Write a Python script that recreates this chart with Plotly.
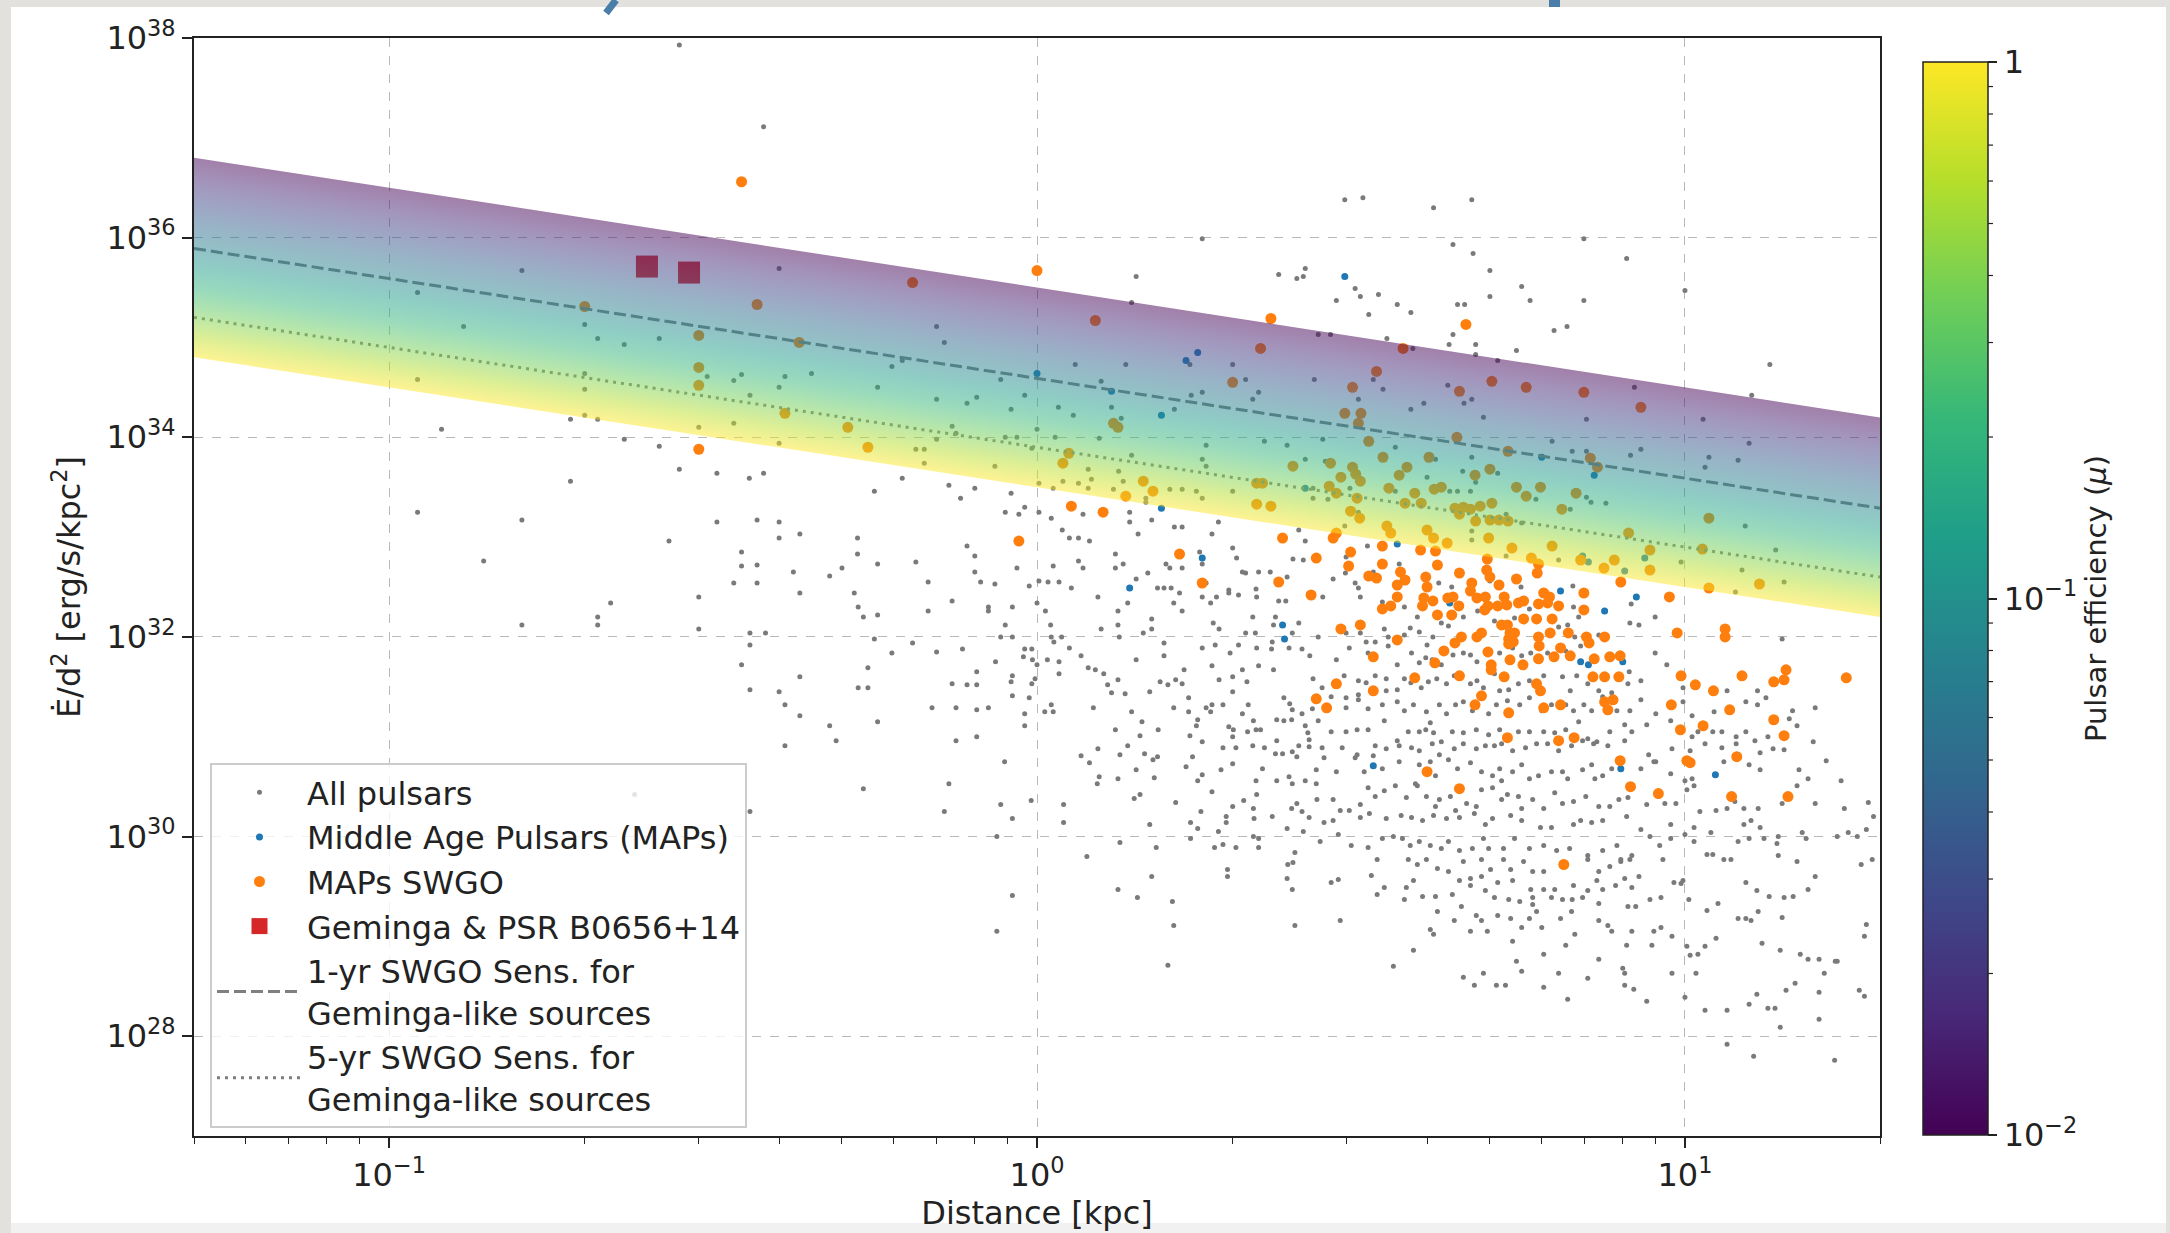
import base64
import numpy as np
import plotly.graph_objects as go
from plotly.colors import sample_colorscale

# ------------------------------------------------------------------
# Data: (log10 distance [kpc], log10 Edot/d^2 [erg/s/kpc^2])
# ------------------------------------------------------------------
all_pulsars = [
    # nearby (< 0.4 kpc)
    (-0.552, 37.93), (-0.422, 37.11), (-0.795, 35.67), (-0.956, 35.45), (-0.885, 35.11), (-0.698, 35.13),
    (-0.678, 34.99), (-0.637, 34.93), (-0.583, 34.99), (-0.698, 34.64), (-0.509, 34.61), (-0.468, 34.57),
    (-0.456, 34.63), (-0.956, 34.58), (-0.698, 34.48), (-0.443, 34.42), (-0.720, 34.18), (-0.698, 34.22),
    (-0.678, 34.18), (-0.522, 34.10), (-0.468, 34.14), (-0.919, 34.08), (-0.637, 33.98), (-0.583, 33.91),
    (-0.552, 33.68), (-0.494, 33.64), (-0.444, 33.59), (-0.422, 33.64), (-0.720, 33.56), (-0.956, 33.25),
    (-0.795, 33.17), (-0.494, 33.15), (-0.432, 33.17), (-0.568, 32.96), (-0.854, 32.76), (-0.456, 32.85),
    (-0.456, 32.71), (-0.432, 32.72), (-0.468, 32.54), (-0.432, 32.54),
    (-0.522, 32.40), (-0.658, 32.34), (-0.795, 32.12), (-0.678, 32.20), (-0.678, 32.12), (-0.522, 32.08),
    (-0.443, 32.04), (-0.443, 31.92), (-0.456, 31.72), (-0.443, 31.47), (-0.621, 30.42), (-0.443, 30.25),
    # 0.4 - 2.7 kpc, upper part
    (0.255, 35.99), (-0.398, 35.69), (0.153, 35.61), (0.373, 35.63), (0.401, 35.59), (0.411, 35.61),
    (0.414, 35.69), (0.146, 35.35), (-0.155, 35.11), (-0.143, 34.95), (-0.389, 34.61), (-0.398, 34.50),
    (-0.348, 34.64), (-0.246, 34.50), (-0.224, 34.71), (-0.208, 34.77), (-0.056, 34.58), (0.059, 34.73),
    (0.137, 34.73), (0.099, 34.56), (0.302, 34.73), (0.322, 34.58), (0.236, 34.73), (-0.155, 34.38),
    (-0.108, 34.34), (-0.093, 34.40), (-0.019, 34.42), (-0.040, 34.28), (0.033, 34.30), (0.056, 34.22),
    (0.115, 34.30), (0.130, 34.19), (0.212, 34.28), (0.238, 34.42), (0.255, 34.45), (0.342, 34.45),
    (0.333, 34.38), (0.351, 33.96), (0.386, 33.92), (0.414, 33.78), (0.261, 33.92), (0.255, 33.78),
    (0.261, 33.71), (0.146, 33.82), (0.126, 33.66), (0.096, 33.99), (0.028, 34.00), (0.000, 34.08),
    (-0.031, 34.00), (-0.049, 34.00), (-0.008, 33.89), (-0.131, 34.11), (-0.125, 34.04), (-0.155, 33.98),
    (-0.187, 33.88), (-0.174, 33.88), (-0.174, 33.74), (-0.398, 33.94), (-0.065, 33.71), (0.079, 33.68),
    (0.084, 33.58), (0.040, 33.56), (0.064, 33.54), (0.079, 33.49), (0.003, 33.54), (0.025, 33.49),
    (0.118, 33.48), (0.133, 33.56), (0.168, 33.39), (0.168, 33.35), (0.205, 33.48), (0.224, 33.48),
    (0.246, 33.46), (0.255, 33.39), (0.302, 33.46), (-0.251, 33.46), (-0.208, 33.59), (-0.136, 33.52),
    (-0.118, 33.39), (-0.096, 33.49), (-0.040, 33.44), (-0.398, 33.15), (-0.398, 32.99), (-0.366, 33.03),
    (-0.277, 32.99), (-0.277, 32.83), (-0.376, 32.65), (-0.320, 32.61), (-0.301, 32.69), (-0.246, 32.73),
    (-0.187, 32.75), (-0.168, 32.55), (-0.108, 32.91), (-0.096, 32.81), (-0.096, 32.65), (-0.087, 32.55),
    (-0.065, 32.53), (-0.049, 33.25), (-0.031, 32.69), (-0.028, 33.23), (-0.019, 33.30), (0.003, 33.25),
    (-0.012, 32.51), (0.003, 32.56), (0.022, 33.19), (0.017, 32.55), (0.034, 32.55), (0.039, 33.07),
    (0.050, 32.99), (0.064, 32.99), (0.081, 32.96), (0.071, 33.23), (0.025, 32.71), (0.053, 32.49),
    (0.064, 32.76), (0.071, 32.69), (0.121, 32.83), (0.121, 32.69), (0.133, 32.73), (0.143, 33.25),
    (0.143, 33.15), (0.156, 33.03), (0.153, 32.58), (0.171, 32.64), (0.177, 33.17), (0.212, 33.10),
    (0.224, 33.10), (0.199, 32.73), (0.205, 32.69), (0.224, 32.69), (0.251, 32.85), (0.255, 32.73),
    (0.261, 32.54), (0.270, 33.03), (0.280, 33.15), (0.302, 32.89), (0.308, 32.79), (0.317, 32.65),
    (0.322, 32.64), (0.342, 32.65), (0.360, 32.65), (0.386, 32.60), (0.395, 32.78), (0.411, 32.77),
    (0.404, 33.07), (0.414, 32.96), (0.186, 32.49), (0.196, 32.49), (0.207, 32.49), (0.296, 32.47),
    (0.338, 32.48),
    # 0.4 - 2.7 kpc, lower part
    (-0.366, 32.44), (-0.282, 32.44), (-0.276, 32.30), (-0.268, 32.20), (-0.246, 32.22), (-0.168, 32.26),
    (-0.131, 32.36), (-0.075, 32.30), (-0.075, 32.26), (-0.038, 32.30), (0.000, 32.34), (0.013, 32.26),
    (-0.049, 32.12), (0.021, 32.12), (-0.419, 32.04), (-0.251, 31.98), (-0.192, 31.94), (-0.056, 32.00),
    (-0.038, 32.00), (0.022, 32.00), (0.038, 32.00), (0.026, 31.95), (-0.224, 31.84), (-0.155, 31.85),
    (-0.115, 31.88), (-0.019, 31.88), (-0.008, 31.88), (-0.021, 31.80), (-0.007, 31.77), (0.000, 31.72),
    (0.016, 31.77), (0.034, 31.75), (0.050, 31.89), (0.068, 31.81), (-0.064, 31.75), (-0.261, 31.69),
    (-0.366, 31.60), (-0.398, 31.45), (-0.276, 31.49), (-0.261, 31.49), (-0.131, 31.53), (-0.108, 31.52),
    (-0.093, 31.65), (-0.093, 31.52), (-0.038, 31.61), (-0.040, 31.55), (-0.008, 31.53), (-0.003, 31.58),
    (0.034, 31.63), (0.079, 31.69), (0.090, 31.67), (0.103, 31.63), (0.109, 31.52), (0.115, 31.44),
    (0.125, 31.57), (0.136, 31.43), (0.153, 31.77), (0.174, 31.45), (0.190, 31.55), (0.202, 31.52),
    (0.214, 31.57), (0.224, 31.53), (0.227, 31.67), (0.196, 31.81), (0.196, 31.94), (0.211, 32.34),
    (0.220, 32.44), (0.224, 32.26), (0.177, 32.18), (0.177, 32.08), (0.164, 32.04), (0.125, 32.26),
    (0.140, 32.34), (0.099, 32.08), (0.125, 32.12), (0.127, 32.00), (0.094, 32.40), (0.255, 32.40),
    (0.268, 32.34), (0.277, 32.40), (0.296, 32.44), (0.311, 32.42), (0.339, 32.40), (0.373, 32.36),
    (0.384, 32.36), (0.333, 32.20), (0.368, 32.20), (0.365, 32.12), (0.404, 32.14), (0.394, 32.04),
    (0.272, 32.14), (0.281, 32.08), (0.322, 32.04), (0.337, 32.04), (0.311, 31.92), (0.255, 31.89),
    (0.275, 31.92), (0.298, 31.84), (0.339, 31.89), (0.362, 31.88), (0.363, 31.95), (0.389, 31.89),
    (0.409, 31.88), (0.421, 31.81), (0.270, 31.71), (0.317, 31.67), (0.342, 31.71), (0.365, 31.67),
    (0.302, 31.60), (0.324, 31.55), (0.281, 31.57), (0.302, 31.45), (0.234, 31.39), (0.211, 31.29),
    (0.234, 31.25), (0.248, 31.17), (0.246, 31.11), (0.261, 31.29), (0.270, 31.32), (0.287, 31.32),
    (0.268, 31.25), (0.317, 31.23), (0.326, 31.32), (0.334, 31.16), (0.296, 31.10), (0.303, 31.07),
    (0.325, 31.05), (0.338, 31.07), (0.345, 31.07), (0.370, 31.17), (0.381, 31.16), (0.393, 31.17),
    (0.381, 31.39), (0.390, 31.33), (0.394, 31.27), (0.409, 31.23), (0.425, 31.28), (0.414, 31.11),
    (0.418, 31.04), (0.236, 31.01), (0.255, 30.95), (0.302, 31.00), (0.287, 30.89), (0.307, 30.89),
    (0.333, 30.91), (0.351, 30.89), (0.370, 30.96), (0.368, 30.83), (0.379, 30.83), (0.394, 30.85),
    (0.401, 30.80), (0.404, 30.91), (0.420, 30.97), (0.420, 30.90), (0.240, 30.80), (0.230, 30.70),
    (0.248, 30.56), (0.255, 30.62), (0.284, 30.67), (0.302, 30.73), (0.348, 30.68), (0.338, 30.56),
    (0.370, 30.56), (0.389, 30.60), (0.394, 30.53), (0.414, 30.56), (0.431, 30.67), (0.431, 30.53),
    (0.270, 30.45), (0.339, 30.42), (0.214, 30.34), (0.319, 30.36), (0.302, 30.30), (0.334, 30.28),
    (0.393, 30.28), (0.401, 30.33), (0.409, 30.25), (0.432, 30.37), (0.253, 30.25), (0.237, 30.14),
    (0.248, 30.08), (0.292, 30.20), (0.292, 30.14), (0.335, 30.18), (0.363, 30.20), (0.386, 30.08),
    (0.411, 30.05), (0.280, 30.05), (0.237, 29.98), (0.334, 30.00), (0.342, 29.98), (0.274, 29.89),
    (0.287, 29.92), (0.307, 29.89), (0.342, 29.89), (0.398, 29.84), (0.387, 29.72), (0.395, 29.74),
    (0.386, 29.58), (0.394, 29.47), (0.398, 29.11), (0.294, 29.67), (0.294, 29.60), (0.128, 29.94),
    (0.184, 29.89), (0.174, 30.12), (0.153, 30.67), (0.159, 30.42), (0.150, 30.38), (0.125, 30.58),
    (0.096, 30.60), (0.093, 30.53), (0.081, 30.74), (0.068, 30.81), (0.094, 30.88), (0.128, 30.82),
    (0.140, 30.91), (0.166, 30.83), (0.179, 30.77), (0.186, 30.80), (0.181, 30.59), (0.121, 31.07),
    (0.146, 31.25), (0.162, 31.15), (0.159, 31.01), (0.187, 31.07), (0.087, 31.29), (0.041, 30.32),
    (0.041, 30.14), (0.077, 29.80), (0.125, 29.47), (0.155, 29.39), (0.177, 29.60), (0.209, 29.35),
    (0.211, 29.11), (0.202, 28.71), (-0.009, 30.36), (-0.038, 30.18), (-0.056, 30.32), (-0.062, 30.00),
    (-0.038, 29.41), (-0.062, 29.05), (-0.050, 30.75), (-0.019, 31.23), (-0.019, 31.11), (-0.012, 31.39),
    (0.012, 31.25), (0.022, 31.32), (0.025, 31.25), (-0.038, 31.41), (-0.075, 31.29), (-0.093, 31.27),
    (-0.125, 31.29), (-0.162, 31.29), (-0.125, 30.96), (-0.093, 31.00), (-0.136, 30.53), (-0.143, 30.25),
    (-0.268, 30.48), (-0.320, 31.11), (-0.310, 30.96), (-0.389, 31.32), (-0.366, 31.21), (-0.389, 30.91),
    (-0.246, 31.15),
    # beyond 2.7 kpc, upper part
    (0.475, 36.38), (0.503, 36.40), (0.671, 36.38), (0.612, 36.30), (0.844, 35.99), (0.642, 35.93),
    (0.673, 35.84), (0.910, 35.79), (1.000, 35.47), (0.699, 35.67), (0.699, 35.41), (0.748, 35.51),
    (0.761, 35.37), (0.844, 35.37), (0.491, 35.49), (0.499, 35.41), (0.527, 35.43), (0.462, 35.37),
    (0.556, 35.33), (0.577, 35.25), (0.512, 35.23), (0.649, 35.33), (0.660, 35.33), (0.798, 35.07),
    (0.818, 35.11), (0.642, 35.03), (0.434, 35.03), (0.453, 35.03), (0.540, 34.99), (0.580, 34.89),
    (0.636, 34.93), (0.677, 34.93), (0.677, 34.83), (0.711, 34.77), (0.740, 34.87), (1.131, 34.73),
    (0.922, 34.50), (1.103, 34.42), (0.428, 34.58), (0.519, 34.58), (0.534, 34.48), (0.496, 34.38),
    (0.634, 34.52), (0.671, 34.38), (0.659, 34.34), (0.597, 34.34), (0.577, 34.28), (0.689, 34.20),
    (0.848, 34.18), (1.028, 34.18), (1.099, 33.94), (0.441, 33.98), (0.795, 33.96), (0.826, 33.86),
    (0.848, 33.86), (0.916, 33.82), (0.932, 33.88), (1.037, 33.80), (1.031, 33.70), (1.082, 33.77),
    (0.553, 33.90), (0.615, 33.78), (0.671, 33.80), (0.602, 33.60), (0.657, 33.66), (0.711, 33.64),
    (0.677, 33.55), (0.445, 33.76), (0.483, 33.49), (0.426, 33.49), (0.426, 33.39), (0.449, 33.38),
    (0.553, 33.46), (0.637, 33.46), (0.649, 33.46), (0.669, 33.46), (0.686, 33.30), (0.724, 33.23),
    (0.770, 33.38), (0.823, 33.28), (0.848, 33.40), (0.855, 33.35), (0.878, 33.34), (0.748, 33.14),
    (0.496, 33.25), (0.475, 33.11), (0.671, 33.06), (0.671, 32.97), (0.724, 32.81), (0.805, 32.77),
    (1.093, 33.11), (1.140, 32.87), (0.994, 32.75), (1.088, 32.67), (1.153, 32.55), (0.510, 32.91),
    (0.477, 32.80), (0.476, 32.64), (0.457, 32.58), (0.491, 32.54), (0.496, 32.49), (0.559, 32.73),
    (0.519, 32.65), (0.620, 32.54), (0.649, 32.66), (0.640, 32.50), (0.699, 32.56), (0.747, 32.50),
    (0.827, 32.51), (1.078, 32.45),
    # beyond 2.7 kpc, main cloud
    (0.441, 32.40), (0.499, 32.40), (0.533, 32.35), (0.567, 32.30), (0.587, 32.20), (0.658, 32.20),
    (0.680, 32.26), (0.760, 32.28), (0.828, 32.30), (0.819, 32.12), (0.836, 32.20), (0.917, 32.33),
    (0.915, 32.14), (0.929, 32.12), (0.954, 32.20), (0.434, 32.00), (0.477, 32.04), (0.499, 32.04),
    (0.536, 32.08), (0.542, 32.00), (0.567, 32.02), (0.576, 32.09), (0.590, 32.05), (0.611, 32.00),
    (0.624, 32.14), (0.635, 32.11), (0.658, 32.00), (0.706, 32.16), (0.737, 32.19), (0.805, 32.10),
    (0.830, 32.00), (1.150, 31.98),
    (0.462, 31.77), (0.482, 31.89), (0.508, 31.95), (0.522, 31.95), (0.511, 31.84), (0.542, 31.91),
    (0.556, 31.72), (0.578, 31.84), (0.602, 31.92), (0.590, 31.74), (0.600, 31.79), (0.610, 31.77),
    (0.624, 31.72), (0.642, 31.82), (0.658, 31.84), (0.669, 31.82), (0.679, 31.75), (0.714, 31.84),
    (0.734, 31.89), (0.748, 31.81), (0.762, 31.84), (0.788, 31.84), (0.816, 31.86), (0.839, 31.91),
    (0.867, 32.02), (0.914, 31.65), (0.932, 31.56), (0.954, 31.84), (0.972, 31.72),
    (0.426, 31.58), (0.440, 31.49), (0.474, 31.61), (0.496, 31.56), (0.496, 31.42), (0.508, 31.54),
    (0.522, 31.61), (0.539, 31.58), (0.539, 31.46), (0.556, 31.47), (0.567, 31.58), (0.577, 31.54),
    (0.593, 31.49), (0.604, 31.55), (0.617, 31.58), (0.632, 31.53), (0.644, 31.61), (0.669, 31.53),
    (0.679, 31.56), (0.689, 31.49), (0.706, 31.63), (0.714, 31.46), (0.728, 31.47), (0.743, 31.53),
    (0.760, 31.56), (0.782, 31.61), (0.811, 31.60), (0.823, 31.46), (0.833, 31.61), (0.850, 31.53),
    (0.867, 31.46), (0.887, 31.44), (0.912, 31.53), (1.065, 31.46), (1.112, 31.46), (1.125, 31.39),
    (0.997, 31.49),
    (0.454, 31.40), (0.477, 31.39), (0.477, 31.29), (0.496, 31.37), (0.511, 31.28), (0.533, 31.32),
    (0.556, 31.35), (0.567, 31.26), (0.581, 31.32), (0.601, 31.25), (0.607, 31.14), (0.621, 31.32),
    (0.632, 31.23), (0.646, 31.32), (0.658, 31.35), (0.672, 31.26), (0.697, 31.23), (0.709, 31.32),
    (0.726, 31.36), (0.745, 31.32), (0.760, 31.39), (0.779, 31.26), (0.794, 31.32), (0.816, 31.32),
    (0.828, 31.26), (0.844, 31.32), (0.856, 31.26), (0.873, 31.40), (0.895, 31.26), (0.915, 31.26),
    (0.932, 31.37), (0.955, 31.23), (0.997, 31.35), (1.011, 31.21), (1.045, 31.25), (1.094, 31.35),
    (1.112, 31.32), (1.166, 31.26), (1.201, 31.29),
    (0.434, 31.16), (0.454, 31.05), (0.477, 31.05), (0.494, 31.07), (0.511, 31.07), (0.536, 31.16),
    (0.556, 30.96), (0.573, 31.05), (0.590, 31.05), (0.600, 31.07), (0.612, 31.04), (0.624, 30.95),
    (0.641, 31.05), (0.658, 31.04), (0.678, 31.07), (0.697, 31.02), (0.714, 31.07), (0.728, 31.00),
    (0.743, 31.05), (0.760, 31.05), (0.782, 31.05), (0.799, 31.04), (0.816, 31.07), (0.836, 31.15),
    (0.850, 30.98), (0.864, 30.95), (0.884, 31.05), (0.907, 31.12), (0.918, 31.05), (0.941, 31.12),
    (0.978, 31.16), (1.011, 31.00), (1.020, 31.05), (1.043, 31.05), (1.057, 31.05), (1.079, 31.00),
    (1.094, 31.05), (1.108, 30.96), (1.128, 31.00), (1.161, 31.18), (1.173, 31.11), (1.198, 30.95),
    (0.440, 30.89), (0.471, 30.89), (0.494, 30.82), (0.522, 30.91), (0.539, 30.88), (0.559, 30.91),
    (0.578, 30.89), (0.590, 30.86), (0.610, 30.93), (0.621, 30.82), (0.644, 30.88), (0.658, 30.93),
    (0.678, 30.88), (0.692, 30.91), (0.706, 30.91), (0.717, 30.93), (0.734, 30.86), (0.754, 30.89),
    (0.771, 30.93), (0.788, 30.93), (0.805, 30.86), (0.825, 30.91), (0.842, 30.96), (0.859, 30.93),
    (0.881, 30.91), (0.907, 30.96), (0.944, 30.82), (0.955, 30.75), (0.980, 30.88), (1.008, 30.86),
    (1.031, 30.93), (1.057, 30.89), (1.079, 30.93), (1.116, 30.84), (1.136, 30.88), (1.153, 30.87),
    (1.218, 30.76),
    (0.443, 30.79), (0.462, 30.65), (0.491, 30.79), (0.505, 30.65), (0.519, 30.81), (0.533, 30.68),
    (0.559, 30.75), (0.584, 30.53), (0.590, 30.72), (0.607, 30.75), (0.615, 30.61), (0.635, 30.77),
    (0.649, 30.68), (0.669, 30.74), (0.686, 30.65), (0.703, 30.61), (0.714, 30.68), (0.717, 30.56),
    (0.734, 30.65), (0.748, 30.72), (0.760, 30.58), (0.774, 30.61), (0.794, 30.65), (0.811, 30.65),
    (0.819, 30.58), (0.842, 30.67), (0.856, 30.72), (0.861, 30.58), (0.873, 30.61), (0.887, 30.68),
    (0.932, 30.68), (0.952, 30.75), (0.978, 30.63), (1.000, 30.56), (1.011, 30.58), (1.060, 30.75),
    (1.099, 30.72), (1.116, 30.67), (1.176, 30.67), (1.190, 30.58), (1.241, 30.56),
    (0.457, 30.37), (0.468, 30.26), (0.482, 30.26), (0.499, 30.32), (0.511, 30.49), (0.522, 30.40),
    (0.536, 30.46), (0.553, 30.51), (0.570, 30.39), (0.587, 30.51), (0.601, 30.40), (0.615, 30.30),
    (0.621, 30.37), (0.638, 30.40), (0.646, 30.26), (0.663, 30.33), (0.678, 30.30), (0.686, 30.47),
    (0.703, 30.49), (0.717, 30.37), (0.726, 30.42), (0.743, 30.40), (0.748, 30.28), (0.765, 30.37),
    (0.782, 30.28), (0.799, 30.44), (0.811, 30.33), (0.828, 30.35), (0.847, 30.40), (0.867, 30.30),
    (0.884, 30.30), (0.898, 30.37), (0.912, 30.39), (0.941, 30.32), (0.969, 30.33), (0.986, 30.33),
    (1.003, 30.47), (1.014, 30.51), (1.023, 30.25), (1.048, 30.26), (1.065, 30.28), (1.077, 30.35),
    (1.091, 30.28), (1.113, 30.28), (1.150, 30.33), (1.173, 30.51), (1.201, 30.33), (1.246, 30.28),
    (1.283, 30.34), (1.291, 30.20),
    (0.420, 30.19), (0.443, 30.14), (0.457, 30.16), (0.499, 30.19), (0.513, 30.23), (0.539, 30.18),
    (0.562, 30.21), (0.578, 30.19), (0.595, 30.16), (0.612, 30.21), (0.632, 30.18), (0.652, 30.19),
    (0.675, 30.23), (0.692, 30.12), (0.703, 30.18), (0.731, 30.21), (0.748, 30.16), (0.777, 30.09),
    (0.794, 30.09), (0.828, 30.12), (0.839, 30.16), (0.856, 30.14), (0.873, 30.16), (0.910, 30.20),
    (0.932, 30.07), (0.978, 30.12), (1.014, 30.09), (1.040, 30.04), (1.091, 30.12), (1.102, 30.16),
    (1.116, 30.09), (1.144, 30.00), (1.181, 30.04), (1.252, 30.04), (1.280, 30.07),
    (0.437, 29.95), (0.465, 30.02), (0.485, 29.91), (0.511, 29.89), (0.533, 29.98), (0.550, 30.00),
    (0.564, 29.98), (0.576, 29.91), (0.590, 29.95), (0.607, 29.91), (0.624, 29.88), (0.635, 29.95),
    (0.652, 29.86), (0.672, 29.88), (0.689, 29.98), (0.697, 29.88), (0.720, 29.88), (0.737, 29.98),
    (0.760, 29.88), (0.782, 29.91), (0.802, 29.86), (0.822, 29.88), (0.850, 29.81), (0.873, 29.86),
    (0.895, 29.91), (0.901, 29.75), (0.918, 29.81), (0.946, 30.00), (0.961, 29.91), (0.978, 29.98),
    (1.000, 30.02), (1.014, 29.95), (1.034, 29.82), (1.043, 29.82), (1.082, 29.95), (1.099, 29.98),
    (1.122, 29.98), (1.142, 29.93), (1.187, 29.98), (1.235, 30.00), (1.266, 30.00),
    (0.525, 29.77), (0.573, 29.77), (0.587, 29.72), (0.601, 29.77), (0.618, 29.68), (0.635, 29.65),
    (0.658, 29.75), (0.686, 29.77), (0.700, 29.67), (0.720, 29.77), (0.731, 29.67), (0.751, 29.75),
    (0.765, 29.65), (0.782, 29.65), (0.850, 29.77), (0.867, 29.65), (0.884, 29.70), (0.901, 29.77),
    (0.915, 29.77), (0.966, 29.77), (0.983, 29.54), (0.997, 29.56), (1.060, 29.77), (1.071, 29.77),
    (1.144, 29.81), (1.173, 29.75), (1.272, 29.72), (1.289, 29.77),
    (0.454, 29.54), (0.465, 29.57), (0.516, 29.61), (0.536, 29.49), (0.570, 29.49), (0.581, 29.56),
    (0.652, 29.56), (0.669, 29.58), (0.686, 29.60), (0.711, 29.54), (0.734, 29.56), (0.762, 29.47),
    (0.782, 29.47), (0.799, 29.47), (0.828, 29.51), (0.850, 29.46), (0.864, 29.56), (0.873, 29.47),
    (0.893, 29.51), (0.907, 29.58), (0.918, 29.49), (0.929, 29.60), (0.994, 29.53), (1.094, 29.54),
    (1.111, 29.46), (1.130, 29.40), (1.153, 29.39), (1.167, 29.40), (1.190, 29.47), (1.201, 29.60),
    (0.525, 29.42), (0.567, 29.37), (0.595, 29.40), (0.615, 29.40), (0.641, 29.42), (0.669, 29.51),
    (0.692, 29.46), (0.706, 29.39), (0.728, 29.37), (0.745, 29.35), (0.765, 29.39), (0.794, 29.39),
    (0.811, 29.37), (0.826, 29.37), (0.842, 29.39), (0.867, 29.33), (0.912, 29.30), (0.924, 29.30),
    (0.946, 29.37), (0.963, 29.39), (1.006, 29.37), (1.034, 29.26), (1.051, 29.33), (1.094, 29.18),
    (1.113, 29.25),
    (0.468, 29.16), (0.607, 29.07), (0.618, 29.25), (0.644, 29.16), (0.655, 29.30), (0.678, 29.21),
    (0.695, 29.05), (0.686, 29.16), (0.711, 29.21), (0.731, 29.18), (0.748, 29.09), (0.760, 29.18),
    (0.765, 29.32), (0.771, 29.25), (0.779, 29.09), (0.808, 29.18), (0.825, 29.25), (0.867, 29.16),
    (0.881, 29.11), (0.887, 29.05), (0.910, 28.91), (0.918, 29.05), (0.952, 29.05), (0.963, 29.09),
    (0.980, 29.00), (1.003, 28.90), (1.008, 28.81), (1.020, 28.82), (1.031, 28.90), (1.048, 28.98),
    (1.082, 29.18), (1.102, 29.16), (1.119, 28.93), (1.150, 29.19), (1.147, 28.86), (1.178, 28.82),
    (1.207, 28.77), (1.235, 28.75), (1.277, 29.00), (1.280, 29.12), (0.581, 28.86), (0.612, 29.02),
    (0.669, 29.05), (0.734, 28.95), (0.782, 28.82), (0.816, 28.91), (0.830, 29.02), (0.867, 28.77),
    (0.904, 28.68), (0.907, 28.63), (0.949, 28.91), (0.980, 28.63),
    (0.550, 28.70), (0.658, 28.59), (0.675, 28.51), (0.689, 28.63), (0.709, 28.51), (0.723, 28.51),
    (0.740, 28.75), (0.748, 28.65), (0.782, 28.49), (0.805, 28.63), (0.819, 28.37), (0.850, 28.58),
    (0.907, 28.51), (0.921, 28.47), (0.941, 28.35), (1.000, 28.39), (1.017, 28.63), (1.031, 28.26),
    (1.065, 28.26), (1.099, 28.32), (1.111, 28.42), (1.128, 28.28), (1.139, 28.28), (1.147, 28.09),
    (1.156, 28.46), (1.170, 28.53), (1.190, 28.77), (1.207, 28.44), (1.207, 28.17), (1.215, 28.63),
    (1.232, 28.75), (1.269, 28.46), (1.277, 28.40), (1.065, 27.92), (1.106, 27.80), (1.231, 27.76),
]

middle_age = [
    (0.000, 34.64), (0.115, 34.46), (0.192, 34.22), (0.230, 34.77), (0.248, 34.85), (0.192, 33.29),
    (0.255, 32.79), (0.143, 32.49), (0.414, 33.49), (0.379, 32.12), (0.382, 31.98), (0.475, 35.61),
    (0.779, 33.80), (0.860, 33.62), (0.556, 32.93), (0.842, 32.81), (0.851, 32.75), (0.938, 32.79),
    (0.907, 32.66), (0.637, 32.34), (0.808, 32.46), (0.925, 32.40), (0.876, 32.26), (0.839, 31.75),
    (0.851, 31.72), (0.904, 31.75), (0.519, 30.71), (0.901, 30.68), (1.047, 30.62),
]

maps_swgo = [
    (-0.456, 36.56), (-0.698, 35.31), (-0.432, 35.33), (-0.522, 35.02), (-0.522, 34.70), (-0.522, 34.52),
    (-0.522, 33.88),
    (-0.192, 35.55), (0.000, 35.67), (0.090, 35.17), (0.361, 35.19), (0.345, 34.89), (0.302, 34.55),
    (-0.367, 34.95), (-0.389, 34.24), (-0.292, 34.10), (-0.261, 33.90), (0.118, 34.14), (0.125, 34.10),
    (0.049, 33.84), (0.040, 33.74), (0.164, 33.56), (0.179, 33.46), (0.137, 33.41), (0.339, 33.54),
    (0.348, 33.54), (0.395, 33.71), (0.339, 33.33), (0.361, 33.31), (0.053, 33.31), (0.102, 33.25),
    (-0.028, 32.96), (0.220, 32.83), (0.379, 32.99), (0.255, 32.54), (0.373, 32.55),
    (0.662, 35.13), (0.565, 34.89), (0.524, 34.66), (0.487, 34.50), (0.652, 34.46), (0.702, 34.56),
    (0.755, 34.50), (0.844, 34.45), (0.932, 34.30), (0.475, 34.24), (0.500, 34.24), (0.496, 34.14),
    (0.512, 33.96), (0.648, 34.00), (0.534, 33.80), (0.605, 33.80), (0.453, 33.74), (0.487, 33.70),
    (0.492, 33.63), (0.499, 33.56), (0.469, 33.60), (0.571, 33.70), (0.559, 33.62), (0.699, 33.68),
    (0.676, 33.62), (0.727, 33.86), (0.854, 33.79), (0.865, 33.70), (0.451, 33.51), (0.462, 33.44),
    (0.543, 33.49), (0.583, 33.44), (0.613, 33.48), (0.624, 33.50), (0.494, 33.39), (0.568, 33.34),
    (0.593, 33.34), (0.645, 33.29), (0.658, 33.30), (0.669, 33.28), (0.652, 33.23), (0.684, 33.31),
    (0.702, 33.34), (0.740, 33.50), (0.755, 33.41), (0.777, 33.50), (0.832, 33.44), (0.810, 33.28),
    (0.484, 33.26), (0.498, 33.19), (0.677, 33.16), (0.699, 33.17), (0.713, 33.17), (0.727, 33.16),
    (0.540, 33.11), (0.546, 33.04), (0.602, 33.07), (0.612, 32.99), (0.697, 32.99), (0.633, 32.94),
    (0.913, 33.04), (1.037, 33.19), (0.457, 32.99), (0.462, 33.04), (0.533, 32.91), (0.484, 32.85),
    (0.592, 32.87), (0.615, 32.86), (0.733, 32.89), (0.795, 32.91), (0.946, 32.87), (1.027, 32.88),
    (0.431, 32.79), (0.533, 32.73), (0.618, 32.72), (0.695, 32.78), (0.763, 32.79), (0.774, 32.73),
    (0.839, 32.77), (0.891, 32.77), (0.875, 32.69), (0.946, 32.67), (0.481, 32.71), (0.694, 32.67),
    (0.512, 32.61), (0.524, 32.59), (0.561, 32.65), (0.568, 32.57), (0.600, 32.60), (0.652, 32.64),
    (0.699, 32.60), (0.772, 32.64), (0.740, 32.58), (0.901, 32.55), (1.115, 32.53), (1.037, 32.49),
    (0.556, 32.52), (0.602, 32.50), (0.671, 32.54), (0.713, 32.52),
    (0.423, 32.42), (0.556, 32.40), (0.597, 32.39), (0.611, 32.36), (0.595, 32.31), (0.634, 32.39),
    (0.642, 32.40), (0.651, 32.31), (0.669, 32.46), (0.679, 32.39), (0.692, 32.40), (0.696, 32.31),
    (0.691, 32.27), (0.711, 32.31), (0.721, 32.40), (0.725, 32.32), (0.743, 32.34), (0.751, 32.36),
    (0.774, 32.33), (0.782, 32.44), (0.791, 32.40), (0.788, 32.34), (0.805, 32.31), (0.844, 32.44),
    (0.844, 32.27), (0.976, 32.40), (0.533, 32.28), (0.546, 32.31), (0.618, 32.22), (0.640, 32.22),
    (0.751, 32.18), (0.771, 32.18), (0.795, 32.18), (0.469, 32.08), (0.499, 32.12), (0.717, 32.12),
    (0.726, 32.12), (0.686, 32.04), (0.679, 32.00), (0.655, 32.00), (0.645, 31.94), (0.628, 31.86),
    (0.614, 31.74), (0.556, 31.97), (0.519, 31.80), (0.696, 31.85), (0.701, 31.72), (0.701, 31.67),
    (0.730, 32.04), (0.737, 32.04), (0.728, 31.98), (0.735, 31.95), (0.728, 31.93), (0.730, 31.77),
    (0.721, 31.60), (0.750, 31.72), (0.774, 32.00), (0.775, 31.91), (0.774, 31.78), (0.792, 32.04),
    (0.798, 31.80), (0.808, 31.89), (0.820, 32.04), (0.823, 31.81), (0.848, 32.00), (0.852, 31.94),
    (0.876, 32.00), (0.860, 31.78), (0.884, 31.80), (0.900, 31.81), (0.858, 31.60), (0.876, 31.60),
    (0.898, 31.60), (0.988, 32.04), (1.062, 32.08), (1.062, 32.00), (0.994, 31.61), (1.016, 31.52),
    (1.044, 31.46), (1.088, 31.61), (1.156, 31.67), (1.137, 31.55), (1.153, 31.57), (1.249, 31.59),
    (0.462, 31.53), (0.519, 31.46), (0.431, 31.38), (0.447, 31.29), (0.583, 31.59), (0.652, 31.61),
    (0.686, 31.41), (0.676, 31.32), (0.771, 31.53), (0.777, 31.46), (0.782, 31.29), (0.808, 31.32),
    (0.728, 31.24), (0.876, 31.35), (0.889, 31.37), (0.881, 31.27), (0.979, 31.32), (1.069, 31.27),
    (0.993, 31.07), (1.028, 31.11), (1.137, 31.17), (1.153, 31.01), (0.726, 30.99), (0.805, 30.96),
    (0.829, 30.99), (0.900, 30.76), (1.003, 30.76), (1.008, 30.74), (1.080, 30.80), (0.602, 30.65),
    (0.652, 30.48), (0.916, 30.50), (0.959, 30.43), (1.072, 30.40), (1.159, 30.40), (0.813, 29.72),
]

geminga_b0656 = [(-0.602, 35.71), (-0.537, 35.65)]

# Sensitivity curves (log10 Edot/d^2 at 1 kpc; both fall as 1/d)
sens_1yr_at_1kpc = 34.59
sens_5yr_at_1kpc = 33.90
# Efficiency band: required Edot/d^2 = 10**band_mu1_at_1kpc / (d * mu)
band_mu1_at_1kpc = 33.50
log_mu_range = (-2.0, 0.0)

x_range = (np.log10(0.05), np.log10(20.0))
y_range = (27.0, 38.0)

FONT = "DejaVu Sans"
INK = "#222222"

# page geometry (pixels)
FIG_W, FIG_H = 2170, 1233
PW, PH, ML, MB = 1686, 1098, 194, 97
CB_LEFT, CB_W, CB_TOP, CB_LEN = 1923, 65, 62, 1073


def px(xp):
    return (xp - ML) / PW


def py(yp):
    return (FIG_H - MB - yp) / PH


def unzip(points):
    ld, lf = np.array(points).T
    return 10.0 ** ld, 10.0 ** lf


fig = go.Figure()

x, y = unzip(all_pulsars)
fig.add_trace(go.Scatter(x=x, y=y, mode="markers", name="All pulsars",
                         marker=dict(size=5, color="#7a7a7a", line_width=0)))
x, y = unzip(middle_age)
fig.add_trace(go.Scatter(x=x, y=y, mode="markers", name="Middle Age Pulsars (MAPs)",
                         marker=dict(size=7, color="#1f77b4", line_width=0)))
x, y = unzip(maps_swgo)
fig.add_trace(go.Scatter(x=x, y=y, mode="markers", name="MAPs SWGO",
                         marker=dict(size=11, color="#ff7f0e", line_width=0)))
x, y = unzip(geminga_b0656)
fig.add_trace(go.Scatter(x=x, y=y, mode="markers", name="Geminga &amp; PSR B0656+14",
                         marker=dict(size=22, color="#d62728", symbol="square", line_width=0)))

d_line = np.geomspace(10 ** x_range[0], 10 ** x_range[1], 40)
fig.add_trace(go.Scatter(x=d_line, y=10 ** sens_1yr_at_1kpc / d_line, mode="lines",
                         name="1-yr SWGO Sens. for<br>Geminga-like sources",
                         line=dict(color="#7f7f7f", width=3, dash="12px,5px")))
fig.add_trace(go.Scatter(x=d_line, y=10 ** sens_5yr_at_1kpc / d_line, mode="lines",
                         name="5-yr SWGO Sens. for<br>Geminga-like sources",
                         line=dict(color="#7f7f7f", width=3, dash="3px,5px")))

# Colour scale for the efficiency band
fig.add_trace(go.Scatter(
    x=[None], y=[None], mode="markers", showlegend=False, hoverinfo="skip",
    marker=dict(color=[0], cmin=log_mu_range[0], cmax=log_mu_range[1], colorscale="Viridis",
                showscale=True,
                colorbar=dict(
                    thickness=CB_W, thicknessmode="pixels", len=CB_LEN, lenmode="pixels",
                    x=px(CB_LEFT), xref="paper", xanchor="left",
                    y=py(CB_TOP), yref="paper", yanchor="top",
                    xpad=0, ypad=0, outlinewidth=1.5, outlinecolor=INK,
                    tickmode="array", tickvals=[-2, -1, 0],
                    ticktext=["10<sup>\u22122</sup>", "10<sup>\u22121</sup>", "1"],
                    ticks="outside", ticklen=9, tickwidth=1.5, tickcolor=INK,
                    tickfont=dict(family=FONT, size=32, color=INK),
                    title=dict(text="Pulsar efficiency (<i>\u03bc</i>)", side="right",
                               font=dict(family=FONT, size=29, color=INK)),
                ))))

# minor ticks on the colour bar (log spacing)
cb_minor = [np.log10(m) + e for e in (-2, -1) for m in range(2, 10)]
cb_minor_shapes = []
for lv in cb_minor:
    yp = CB_TOP + CB_LEN * (log_mu_range[1] - lv) / (log_mu_range[1] - log_mu_range[0])
    cb_minor_shapes.append(dict(type="line", xref="paper", yref="paper",
                                x0=px(CB_LEFT + CB_W), x1=px(CB_LEFT + CB_W + 5),
                                y0=py(yp), y1=py(yp), line=dict(color=INK, width=1.2)))

# Efficiency band: translucent viridis gradient between mu = 1 and mu = 0.01,
# drawn in (log d, log Edot/d^2) space and stretched over the plotting area.
W = x_range[1] - x_range[0]
H = y_range[1] - y_range[0]
top_edge = y_range[1] + x_range[0] - (band_mu1_at_1kpc - log_mu_range[0])
bottom_edge = y_range[1] + x_range[0] - (band_mu1_at_1kpc - log_mu_range[1])
offsets = np.linspace(0, 1, 21)
stops = "".join(f'<stop offset="{t:.3f}" stop-color="{c}" stop-opacity="0.5"/>'
                for t, c in zip(offsets, sample_colorscale("Viridis", list(offsets))))
svg = (f'<svg xmlns="http://www.w3.org/2000/svg" width="{PW}" height="{PH}" '
       f'viewBox="0 0 {W:.5f} {H:.5f}" preserveAspectRatio="none">'
       f'<defs><linearGradient id="g" x1="0" y1="0" x2="0" y2="1">{stops}</linearGradient></defs>'
       f'<rect x="0" y="{top_edge:.5f}" width="{W:.5f}" height="{bottom_edge - top_edge:.5f}" '
       f'fill="url(#g)" transform="matrix(1 1 0 1 0 0)"/></svg>')
band_uri = "data:image/svg+xml;base64," + base64.b64encode(svg.encode()).decode()

frame_shapes = [
    dict(type="rect", xref="paper", yref="paper", x0=px(0), x1=px(11), y0=py(FIG_H), y1=py(0),
         fillcolor="#e2e1dd", line_width=0, layer="below"),
    dict(type="rect", xref="paper", yref="paper", x0=px(0), x1=px(FIG_W), y0=py(7), y1=py(0),
         fillcolor="#e2e1dd", line_width=0, layer="below"),
    dict(type="rect", xref="paper", yref="paper", x0=px(2166), x1=px(FIG_W), y0=py(FIG_H), y1=py(0),
         fillcolor="#e2e1dd", line_width=0, layer="below"),
    dict(type="rect", xref="paper", yref="paper", x0=px(11), x1=px(2166), y0=py(FIG_H), y1=py(1223),
         fillcolor="#f1f1f1", line_width=0, layer="below"),
    dict(type="line", xref="paper", yref="paper", x0=px(616), x1=px(606), y0=py(0), y1=py(13),
         line=dict(color="#4a7ea8", width=7)),
    dict(type="rect", xref="paper", yref="paper", x0=px(1549), x1=px(1560), y0=py(7), y1=py(0),
         fillcolor="#4a7ea8", line_width=0),
]

x_minor = [m * 10.0 ** e for e in (-2, -1, 0, 1) for m in range(2, 10)
           if 10 ** x_range[0] <= m * 10.0 ** e <= 10 ** x_range[1]]

axis_common = dict(
    type="log", showline=True, mirror=True, linecolor=INK, linewidth=2,
    ticks="outside", ticklen=10, tickwidth=1.5, tickcolor=INK,
    tickfont=dict(family=FONT, size=32, color=INK),
    showgrid=True, gridcolor="#b8b8b8", gridwidth=1, griddash="dash", zeroline=False,
)

fig.update_layout(
    width=FIG_W, height=FIG_H,
    margin=dict(l=ML, r=FIG_W - ML - PW, t=FIG_H - MB - PH, b=MB, autoexpand=False),
    paper_bgcolor="white", plot_bgcolor="white",
    font=dict(family=FONT, size=32, color=INK),
    hovermode=False,
    xaxis=dict(**axis_common, range=list(x_range),
               tickmode="array", tickvals=[0.1, 1, 10],
               ticktext=["10<sup>\u22121</sup>", "10<sup>0</sup>", "10<sup>1</sup>"],
               minor=dict(tickmode="array", tickvals=x_minor, ticks="outside", ticklen=6,
                          tickwidth=1.2, tickcolor=INK, showgrid=False),
               title=dict(text="Distance [kpc]", standoff=1,
                          font=dict(family=FONT, size=32, color=INK))),
    yaxis=dict(**axis_common, range=list(y_range),
               tickmode="array", tickvals=[10.0 ** k for k in range(28, 39, 2)],
               ticktext=[f"10<sup>{k}</sup>" for k in range(28, 39, 2)],
               title=dict(text="\u0116/d<sup>2</sup> [erg/s/kpc<sup>2</sup>]", standoff=16,
                          font=dict(family=FONT, size=32, color=INK))),
    legend=dict(x=px(210), y=py(763), xanchor="left", yanchor="top",
                bgcolor="rgba(255,255,255,0.8)", bordercolor="#cccccc", borderwidth=2,
                font=dict(family=FONT, size=32, color=INK), itemwidth=85,
                tracegroupgap=0, itemsizing="trace"),
    images=[dict(source=band_uri, xref="paper", yref="paper", x=0, y=1, sizex=1, sizey=1,
                 sizing="stretch", xanchor="left", yanchor="top", layer="above")],
    shapes=frame_shapes + cb_minor_shapes,
)

fig.write_html("out.html", config={"displayModeBar": False},
               post_script="document.body.style.margin='0';")
